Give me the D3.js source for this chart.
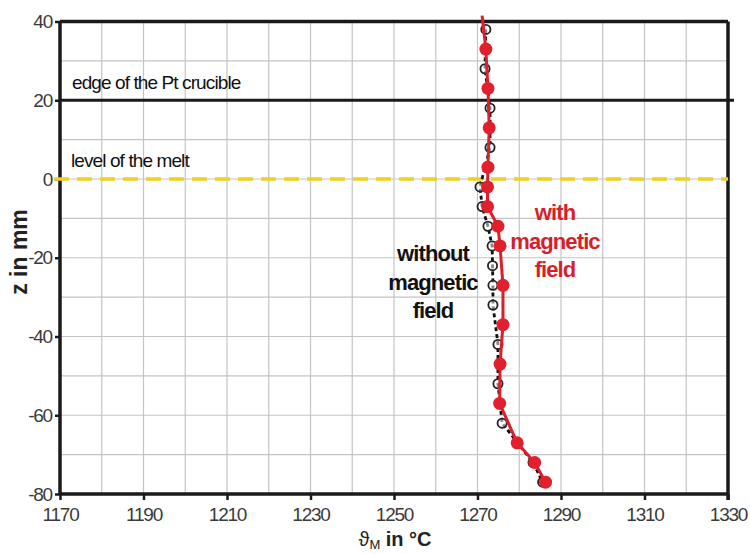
<!DOCTYPE html>
<html><head><meta charset="utf-8">
<script src="https://d3js.org/d3.v7.min.js"></script>
<style>body{margin:0;background:#fff}svg{display:block}</style>
</head><body>
<svg id="c" width="750" height="554"></svg>
<script>
// ---- data ----
const xTicks = [1170,1190,1210,1230,1250,1270,1290,1310,1330];
const yTicks = [40,20,0,-20,-40,-60,-80];
// with magnetic field (red): z in mm, temperature in °C
const withZ = [41.5,33,23,13,3,-2,-7,-12,-17,-27,-37,-47,-57,-67,-72,-77];
const withT = [1271.1,1272.0,1272.5,1272.8,1272.5,1272.4,1272.4,1274.9,1275.4,1276.1,1276.1,1275.4,1275.3,1279.5,1283.7,1286.3];
// without magnetic field (black)
const woZ = [38,28,18,8,-2,-7,-12,-17,-22,-27,-32,-42,-52,-62,-72,-77];
const woT = [1272.0,1271.8,1273.0,1273.0,1270.6,1271.1,1272.5,1273.5,1273.6,1273.7,1273.7,1274.9,1274.9,1275.9,1283.3,1285.6];
const edgeZ = 20, meltZ = 0;

const svg = d3.select("#c");
const L=60, R=728, T=21.5, B=494;
const x = d3.scaleLinear().domain([1170,1330]).range([L,R]);
const y = d3.scaleLinear().domain([-80,40]).range([B,T]);
const font = "'Liberation Sans', Arial, sans-serif";
const narrow = "'Liberation Sans Narrow', 'Liberation Sans', Arial, sans-serif";

// grid
const g = svg.append("g");
g.selectAll("line.vx").data(d3.range(1180,1330,10)).enter().append("line")
 .attr("x1",d=>x(d)).attr("x2",d=>x(d)).attr("y1",T).attr("y2",B)
 .attr("stroke","#c4c4c4").attr("stroke-width",1.2);
g.selectAll("line.hy").data(d3.range(-70,40,10)).enter().append("line")
 .attr("x1",L).attr("x2",R).attr("y1",d=>y(d)).attr("y2",d=>y(d))
 .attr("stroke","#c4c4c4").attr("stroke-width",1.2);

// axes
const fmt = d => String(d);
const xAx = svg.append("g").attr("transform",`translate(0,${B})`)
 .call(d3.axisBottom(x).tickValues(xTicks).tickSize(6).tickPadding(8).tickFormat(fmt));
const yAx = svg.append("g").attr("transform",`translate(${L},0)`)
 .call(d3.axisLeft(y).tickValues(yTicks).tickSize(5).tickPadding(3).tickFormat(fmt));
[xAx,yAx].forEach(a=>{
  a.select(".domain").attr("stroke","#1a1a1a").attr("stroke-width",3.5);
  a.selectAll(".tick line").attr("stroke","#1a1a1a").attr("stroke-width",2.5);
  a.selectAll(".tick text").attr("font-family",narrow).attr("font-size",19).attr("fill","#3a3a3a").attr("letter-spacing",-1.2);
});
xAx.select(".domain").attr("d",`M${L},0H${R}`);
yAx.select(".domain").attr("d",`M0,${T}V${B}`);
// frame top/right
svg.append("line").attr("x1",L).attr("x2",R).attr("y1",T).attr("y2",T).attr("stroke","#1a1a1a").attr("stroke-width",3.5);
svg.append("line").attr("x1",R).attr("x2",R).attr("y1",T).attr("y2",B+6).attr("stroke","#1a1a1a").attr("stroke-width",3.5);

// reference lines
svg.append("line").attr("x1",L).attr("x2",R+6).attr("y1",y(edgeZ)).attr("y2",y(edgeZ))
 .attr("stroke","#1a1a1a").attr("stroke-width",3.2);
svg.append("line").attr("x1",L-6).attr("x2",R).attr("y1",y(meltZ)).attr("y2",y(meltZ))
 .attr("stroke","#f0d020").attr("stroke-width",3.5).attr("stroke-dasharray","15,8");

svg.append("text").attr("x",72).attr("y",89).attr("font-family",font).attr("font-size",19)
 .attr("letter-spacing",-0.9).attr("fill","#111").text("edge of the Pt crucible");
svg.append("text").attr("x",71).attr("y",167).attr("font-family",font).attr("font-size",19)
 .attr("letter-spacing",-0.9).attr("fill","#111").text("level of the melt");

// series
const woData = woZ.map((z,i)=>({z,t:woT[i]}));
const wData = withZ.map((z,i)=>({z,t:withT[i]}));
const line = d3.line().x(d=>x(d.t)).y(d=>y(d.z));

svg.append("path").datum(woData).attr("d",line).attr("fill","none")
 .attr("stroke","#111").attr("stroke-width",2.8).attr("stroke-dasharray","4,3");
svg.selectAll("circle.wo").data(woData).enter().append("circle")
 .attr("cx",d=>x(d.t)).attr("cy",d=>y(d.z)).attr("r",4.6)
 .attr("fill","#fff").attr("fill-opacity",0.5).attr("stroke","#222").attr("stroke-width",1.8);

svg.append("path").datum(wData).attr("d",line).attr("fill","none")
 .attr("stroke","#dd1f2b").attr("stroke-width",3);
svg.selectAll("circle.w").data(wData.filter(d=>d.z<40)).enter().append("circle")
 .attr("cx",d=>x(d.t)).attr("cy",d=>y(d.z)).attr("r",6.5).attr("fill","#e0202c");

// series labels
function block(lines, cx, y0, color){
  const t = svg.append("text").attr("text-anchor","middle").attr("font-family",font)
   .attr("font-weight","bold").attr("font-size",22).attr("fill",color).attr("letter-spacing",-0.9);
  lines.forEach((s,i)=>t.append("tspan").attr("x",cx).attr("y",y0+i*28.5).text(s));
}
block(["without","magnetic","field"],433,261,"#111");
block(["with","magnetic","field"],555,220,"#d81e2a");

// axis titles
svg.append("text").attr("transform","translate(27,252) rotate(-90)").attr("text-anchor","middle")
 .attr("font-family",font).attr("font-weight","bold").attr("font-size",23).attr("fill","#222").text("z in mm");
const xt = svg.append("text").attr("x",395).attr("y",546).attr("text-anchor","middle")
 .attr("font-family",font).attr("font-weight","bold").attr("font-size",20).attr("fill","#222");
xt.append("tspan").attr("font-weight","normal").text("ϑ");
xt.append("tspan").attr("font-size",13).attr("dy",3).attr("font-weight","normal").text("M");
xt.append("tspan").attr("dy",-3).text(" in °C");
</script>
</body></html>
